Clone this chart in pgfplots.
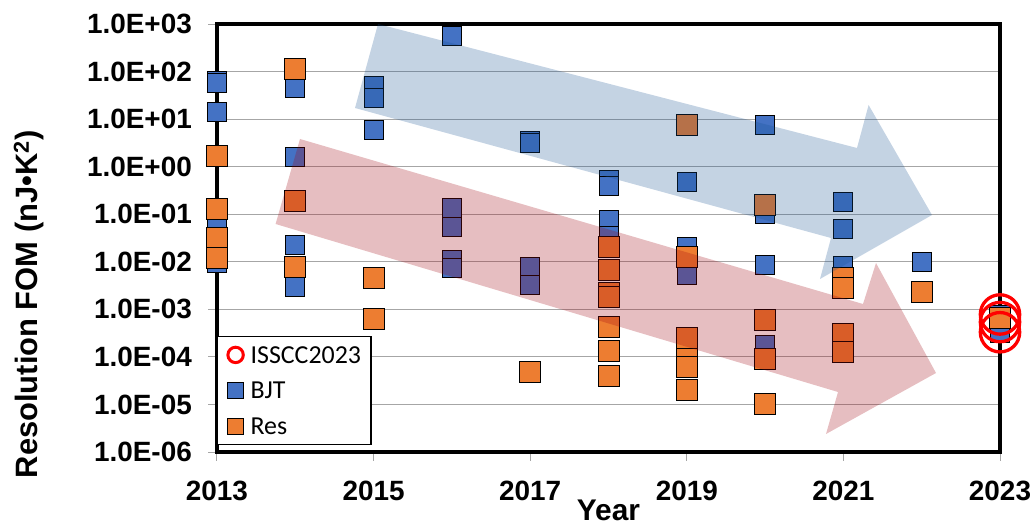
\documentclass[border=0pt]{standalone}
\usepackage{pgfplots}
\pgfplotsset{compat=1.18}
\usepackage{pgfplotstable}
\usepackage{fontspec}
\setmainfont{Liberation Sans}
\newfontfamily\carlito{Carlito}
\definecolor{bjt}{RGB}{68,114,196}
\definecolor{res}{RGB}{237,125,49}
\definecolor{gridc}{RGB}{166,166,166}
\definecolor{arrblue}{RGB}{20,80,145}
\definecolor{arrred}{RGB}{160,5,16}
\pgfplotsset{mylegimg/.style={legend image code/.code={\draw[##1] plot coordinates {(0bp,0bp)};}}}
\pgfplotstableread{
year fom
2013 65
2013 58
2013 14
2013 0.075
2013 0.0095
2014 45
2014 1.6
2014 0.023
2014 0.003
2015 51
2015 28
2015 6.0
2016 570
2016 0.136
2016 0.055
2016 0.0107
2016 0.0075
2017 3.5
2017 3.2
2017 0.0077
2017 0.0032
2018 0.53
2018 0.4
2018 0.074
2018 0.035
2019 0.48
2019 0.021
2019 0.0052
2020 7.5
2020 0.1
2020 0.0087
2020 0.00018
2021 0.18
2021 0.05
2021 0.0083
2022 0.0098
2023 0.00078
2023 0.00032
}\bjtdata
\pgfplotstableread{
year fom
2013 1.7
2013 0.128
2013 0.032
2013 0.012
2014 112
2014 0.19
2014 0.0077
2015 0.0045
2015 0.00064
2017 4.8e-5
2018 0.021
2018 0.0068
2018 0.0022
2018 0.0018
2018 0.00042
2018 0.000133
2018 3.9e-5
2019 7.5
2019 0.0126
2019 0.00025
2019 9e-5
2019 6e-5
2019 2e-5
2020 0.155
2020 0.0006
2020 9e-5
2020 1.0e-5
2021 0.0046
2021 0.0028
2021 0.0003
2021 0.00013
2022 0.0023
2023 0.00066
}\resdata
\pgfplotstableread{
year fom
2023 0.00078
2023 0.00054
2023 0.00033
}\isscc
\begin{document}
\begin{tikzpicture}
\path[use as bounding box] (-217bp,-75bp) rectangle (816bp,452bp);
\begin{axis}[
  scale only axis, width=783bp, height=428bp,
  at={(0,0)}, anchor=south west,
  xmin=2013, xmax=2023, ymode=log, ymin=1e-6, ymax=1e3,
  xtick={2013,2015,2017,2019,2021,2023},
  xticklabels={2013,2015,2017,2019,2021,2023},
  ytick={1e-6,1e-5,1e-4,1e-3,1e-2,1e-1,1,10,100,1000},
  yticklabels={1.0E-06,1.0E-05,1.0E-04,1.0E-03,1.0E-02,1.0E-01,1.0E+00,1.0E+01,1.0E+02,1.0E+03},
  yminorticks=false,
  ymajorgrids, grid style={gridc, line width=1bp},
  axis line style={black, line width=3.5bp},
  tick style={gridc, line width=1bp}, major tick length=9bp, tick align=outside,
  tick pos=left,
  ticklabel style={font=\fontsize{28}{32}\selectfont\bfseries, inner sep=0pt},
  yticklabel style={anchor=east, xshift=-16bp},
  xticklabel style={anchor=north, yshift=-20bp},
  xlabel={Year},
  xlabel style={font=\fontsize{30}{34}\selectfont\bfseries, inner sep=0pt, text depth=0pt, at={(axis description cs:0.5,-0.1612)}, anchor=base},
  ylabel={Resolution FOM (nJ•K\textsuperscript{2})},
  ylabel style={font=\fontsize{31}{34}\selectfont\bfseries, at={(axis description cs:-0.2401,0.345)}, anchor=center},
  clip=false,
  legend style={at={(axis description cs:0,0.0164)}, anchor=south west, draw=black, line width=1.2bp, fill=white,
    font=\fontsize{26}{30}\selectfont\carlito, inner xsep=10bp, inner ysep=7.3bp, row sep=14.2bp, column sep=7bp,
    nodes={inner sep=0pt, text height=19bp, text depth=2.5bp}},
  legend cell align=left,
]
\addplot[only marks, mark=square*, mark size=9.5bp, line width=0.9bp, draw=black, fill=bjt, forget plot] table[x=year,y=fom] {\bjtdata};
\addplot[only marks, mark=square*, mark size=10.5bp, line width=0.9bp, draw=black, fill=res, forget plot] table[x=year,y=fom] {\resdata};
\addplot[only marks, mark=o, mark size=19.7bp, line width=3.3bp, draw=red, mylegimg,
  legend image post style={mark size=7.7bp, line width=3bp}] table[x=year,y=fom] {\isscc};
\addlegendentry{ISSCC2023}
\addlegendimage{only marks, mark=square*, mark size=8bp, line width=0.9bp, draw=black, fill=bjt, mylegimg}
\addlegendentry{BJT}
\addlegendimage{only marks, mark=square*, mark size=8bp, line width=0.9bp, draw=black, fill=res, mylegimg}
\addlegendentry{Res}
\end{axis}
\fill[arrblue, opacity=0.25] (161bp,428bp) -- (640bp,304bp) -- (651.6bp,347bp) -- (715bp,237bp) -- (603bp,173bp) -- (614bp,214bp) -- (138bp,344bp) -- cycle;
\fill[arrred, opacity=0.26] (83bp,313bp) -- (646bp,148bp) -- (659bp,189bp) -- (719bp,79bp) -- (609bp,18bp) -- (621bp,60bp) -- (58.6bp,228bp) -- cycle;
\end{tikzpicture}
\end{document}
